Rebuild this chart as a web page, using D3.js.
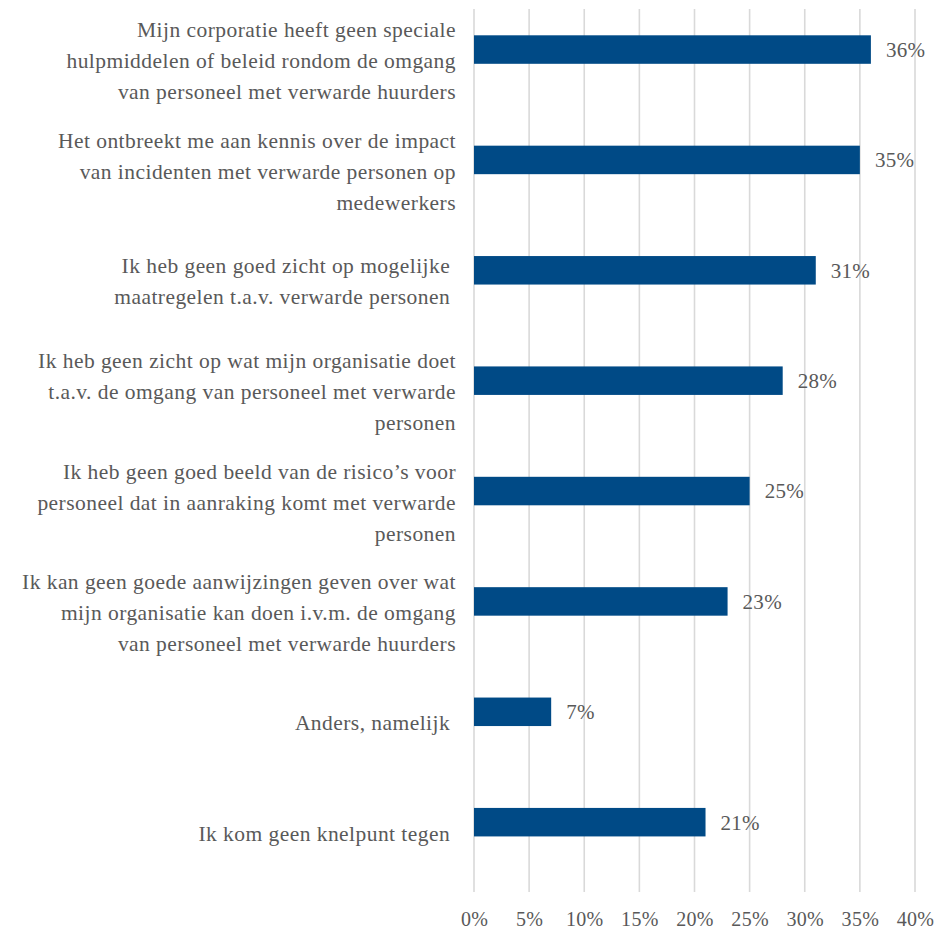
<!DOCTYPE html>
<html>
<head>
<meta charset="utf-8">
<script src="https://cdn.jsdelivr.net/npm/d3@7"></script>
<style>
  html, body { margin: 0; padding: 0; background: #fff; }
  svg text { font-family: "Liberation Serif", "DejaVu Serif", serif; fill: #595959; }
</style>
</head>
<body>
<svg id="chart" width="948" height="933"></svg>
<script>
// Knelpunten bij de omgang met verwarde personen (percentage respondenten)
const categories = [
  ["Mijn corporatie heeft geen speciale", "hulpmiddelen of beleid rondom de omgang", "van personeel met verwarde huurders"],
  ["Het ontbreekt me aan kennis over de impact", "van incidenten met verwarde personen op", "medewerkers"],
  ["Ik heb geen goed zicht op mogelijke ", "maatregelen t.a.v. verwarde personen "],
  ["Ik heb geen zicht op wat mijn organisatie doet", "t.a.v. de omgang van personeel met verwarde", "personen"],
  ["Ik heb geen goed beeld van de risico’s voor", "personeel dat in aanraking komt met verwarde", "personen"],
  ["Ik kan geen goede aanwijzingen geven over wat", "mijn organisatie kan doen i.v.m. de omgang", "van personeel met verwarde huurders"],
  ["Anders, namelijk "],
  ["Ik kom geen knelpunt tegen "]
];
const values = [36, 35, 31, 28, 25, 23, 7, 21];
const xTicks = [0, 5, 10, 15, 20, 25, 30, 35, 40];

const svg = d3.select("#chart");
const plot = { left: 474, right: 915, top: 9, bottom: 892 };
const barColor = "#004a86";

const x = d3.scaleLinear().domain([0, 40]).range([plot.left, plot.right]);
const y = d3.scaleBand().domain(d3.range(categories.length)).range([plot.top, plot.bottom]);
const barH = 28.5;
const barOffset = 26.3; // bars sit in the upper part of each band

// vertical gridlines
svg.append("g")
  .selectAll("line")
  .data(xTicks)
  .join("line")
  .attr("x1", d => x(d)).attr("x2", d => x(d))
  .attr("y1", plot.top).attr("y2", plot.bottom)
  .attr("stroke", "#d9d9d9")
  .attr("stroke-width", 1.6);

// x-axis tick labels
const xAxis = d3.axisBottom(x).tickValues(xTicks).tickFormat(d => d + "%").tickSize(0).tickPadding(0);
const xg = svg.append("g").attr("transform", `translate(0, 919)`).call(xAxis);
xg.select(".domain").remove();
xg.selectAll("text")
  .attr("dy", "0.35em")
  .attr("y", 0)
  .style("font-size", "20px")
  .style("letter-spacing", "0.3px")
  .style("font-family", "'Liberation Serif', 'DejaVu Serif', serif")
  .attr("fill", "#595959");

// bars
svg.append("g")
  .selectAll("rect")
  .data(values)
  .join("rect")
  .attr("x", x(0))
  .attr("y", (d, i) => y(i) + barOffset)
  .attr("width", d => x(d) - x(0))
  .attr("height", barH)
  .attr("fill", barColor);

// value labels
svg.append("g")
  .selectAll("text")
  .data(values)
  .join("text")
  .attr("x", d => x(d) + 15)
  .attr("y", (d, i) => y(i) + barOffset + barH / 2)
  .attr("dy", "0.35em")
  .style("font-size", "21px")
  .style("letter-spacing", "0.3px")
  .text(d => d + "%");

// category labels (right aligned, multi-line)
const lineH = 31;
const labels = svg.append("g")
  .selectAll("text")
  .data(categories)
  .join("text")
  .attr("text-anchor", "end")
  .style("font-size", "21.5px")
  .style("letter-spacing", "0.45px")
  .style("white-space", "pre")
  .attr("transform", (d, i) => `translate(456, ${y(i) + y.bandwidth() / 2 + 4})`);

labels.selectAll("tspan")
  .data(d => d.map((t, j) => ({ t, j, n: d.length })))
  .join("tspan")
  .attr("x", 0)
  .attr("y", d => (d.j - (d.n - 1) / 2) * lineH)
  .text(d => d.t);
</script>
</body>
</html>
